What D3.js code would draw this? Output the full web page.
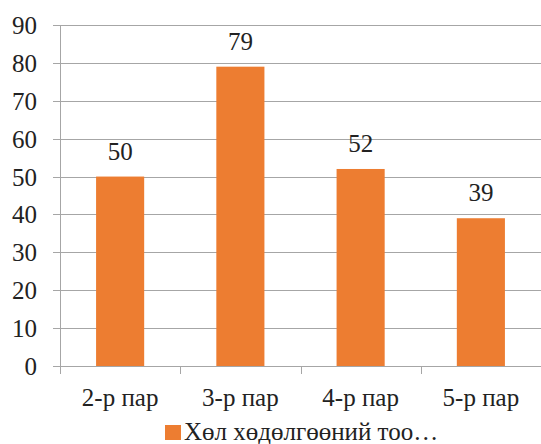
<!DOCTYPE html>
<html><head><meta charset="utf-8">
<script src="https://cdn.jsdelivr.net/npm/d3@7"></script>
<style>body{margin:0;background:#fff}
svg text, text.lbl{font-family:"Liberation Serif" !important;}</style>
</head><body>
<script>
const categories = ["2-р пар","3-р пар","4-р пар","5-р пар"];
const values = [50,79,52,39];
const seriesName = "Хөл хөдөлгөөний тоо…";
const yTicks = [0,10,20,30,40,50,60,70,80,90];

const W=541,H=444;
const m={left:60};
const svg=d3.select("body").append("svg").attr("width",W).attr("height",H);
const x=d3.scaleBand().domain(categories).range([m.left,541]).paddingInner(0.6).paddingOuter(0.3);
const y=d3.scaleLinear().domain([0,90]).range([366,25]);
const grid="#a6a6a6";
const FF='"Liberation Serif"';
function txt(sel){return sel.attr("class","lbl").attr("font-family","Liberation Serif")
  .style("font-family",FF,"important").style("font-size","25px").style("fill","#222");}

svg.append("g").selectAll("line").data(yTicks).join("line")
  .attr("x1",53).attr("x2",541).attr("y1",d=>Math.round(y(d))+0.5).attr("y2",d=>Math.round(y(d))+0.5)
  .attr("stroke",grid).attr("stroke-width",1);
svg.append("line").attr("x1",m.left+0.5).attr("x2",m.left+0.5).attr("y1",y(90)).attr("y2",y(0)+7)
  .attr("stroke",grid);
txt(svg.append("g").selectAll("text").data(yTicks).join("text")
  .attr("x",37).attr("y",d=>y(d)+9).attr("text-anchor","end")).text(d=>d);
const step=x.step();
const bounds=[m.left].concat(categories.map(c=>x(c)-x.paddingInner()*step/2+step));
svg.append("g").selectAll("line").data(bounds).join("line")
  .attr("x1",d=>Math.round(d)+0.5).attr("x2",d=>Math.round(d)+0.5).attr("y1",y(0)).attr("y2",y(0)+8)
  .attr("stroke",grid);
svg.append("g").selectAll("rect").data(values).join("rect")
  .attr("x",(d,i)=>x(categories[i])).attr("width",x.bandwidth())
  .attr("y",d=>y(d)).attr("height",d=>y(0)-y(d)).attr("fill","#ED7D31");
txt(svg.append("g").selectAll("text").data(values).join("text")
  .attr("x",(d,i)=>x(categories[i])+x.bandwidth()/2).attr("y",d=>y(d)-17)
  .attr("text-anchor","middle")).text(d=>d);
txt(svg.append("g").selectAll("text").data(categories).join("text")
  .attr("x",c=>x(c)+x.bandwidth()/2).attr("y",406)
  .attr("text-anchor","middle")).text(c=>c);
svg.append("rect").attr("x",165).attr("y",425).attr("width",16).attr("height",15).attr("fill","#ED7D31");
txt(svg.append("text").attr("x",184).attr("y",440)).text(seriesName);
</script>
</body></html>
